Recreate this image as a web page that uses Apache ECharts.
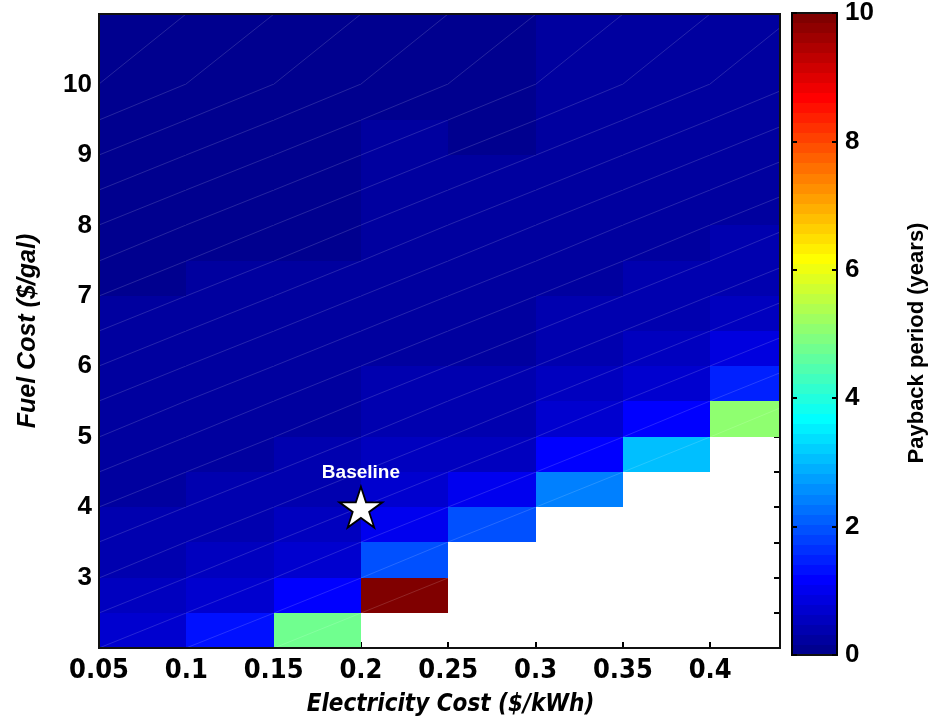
<!DOCTYPE html>
<html>
<head>
<meta charset="utf-8">
<script src="https://cdn.jsdelivr.net/npm/echarts@6/dist/echarts.min.js"></script>
<style>
html,body{margin:0;padding:0;background:#fff;}
#chart{width:934px;height:723px;}
</style>
</head>
<body>
<div id="chart"></div>
<script>
// Cell edges
const elecEdges = [0.05, 0.10, 0.15, 0.20, 0.25, 0.30, 0.35, 0.40, 0.45];
const fuelEdges = [2.0, 2.5, 3.0, 3.5, 4.0, 4.5, 5.0, 5.5, 6.0, 6.5, 7.0, 7.5, 8.0, 8.5, 9.0, 9.5, 10.0, 11.0];
// Payback period (years); rows bottom (fuel 2.0) to top (fuel 10.0); columns elec 0.05 .. 0.40; null = no payback
const payback = [
  [0.72, 1.30, 4.70, null, null, null, null, null],
  [0.53, 0.75, 1.20, 10.0, null, null, null, null],
  [0.42, 0.53, 0.73, 1.90, null, null, null, null],
  [0.34, 0.41, 0.51, 1.00, 2.00, null, null, null],
  [0.29, 0.34, 0.39, 0.69, 0.95, 2.45, null, null],
  [0.26, 0.29, 0.32, 0.52, 0.62, 1.12, 3.10, null],
  [0.23, 0.25, 0.27, 0.42, 0.46, 0.72, 1.20, 5.00],
  [0.20, 0.22, 0.23, 0.35, 0.37, 0.53, 0.75, 1.43],
  [0.185, 0.20, 0.20, 0.30, 0.305, 0.42, 0.54, 0.83],
  [0.17, 0.18, 0.18, 0.26, 0.26, 0.35, 0.43, 0.59],
  [0.155, 0.165, 0.165, 0.235, 0.23, 0.30, 0.35, 0.45],
  [0.145, 0.15, 0.15, 0.21, 0.20, 0.26, 0.30, 0.37],
  [0.135, 0.14, 0.138, 0.19, 0.18, 0.23, 0.26, 0.31],
  [0.127, 0.13, 0.128, 0.177, 0.165, 0.21, 0.23, 0.27],
  [0.12, 0.122, 0.119, 0.163, 0.15, 0.19, 0.205, 0.24],
  [0.112, 0.115, 0.111, 0.152, 0.14, 0.173, 0.186, 0.21],
  [0.106, 0.108, 0.104, 0.142, 0.13, 0.16, 0.17, 0.19]
];
const baseline = [0.2, 4.0];
const baselineLabel = 'Baseline';
const xTitle = 'Electricity Cost ($/kWh)';
const yTitle = 'Fuel Cost ($/gal)';
const cbTitle = 'Payback period (years)';
const cbMin = 0, cbMax = 10, cbLevels = 64;

// MATLAB jet(64) colormap
function clamp(v){ return Math.max(0, Math.min(1, v)); }
const jet = [];
for (let i = 1; i <= cbLevels; i++) {
  const x = i / cbLevels;
  const r = clamp(Math.min(4*x - 1.5, -4*x + 4.5));
  const g = clamp(Math.min(4*x - 0.5, -4*x + 3.5));
  const b = clamp(Math.min(4*x + 0.5, -4*x + 2.5));
  jet.push('rgb(' + Math.round(r*255) + ',' + Math.round(g*255) + ',' + Math.round(b*255) + ')');
}
const step = (cbMax - cbMin) / cbLevels;
const pieces = jet.map((c, k) => {
  const p = { gte: cbMin + k*step, color: c };
  if (k < cbLevels - 1) p.lt = cbMin + (k+1)*step;
  return p;
});

// heatmap cells: [x0, y0, value, x1, y1]
const cells = [];
payback.forEach((row, j) => {
  row.forEach((v, i) => {
    if (v === null) return;
    cells.push([elecEdges[i], fuelEdges[j], v, elecEdges[i+1], fuelEdges[j+1]]);
  });
});
// colorbar bands
const bands = jet.map((c, k) => [0, cbMin + k*step, cbMin + (k+0.5)*step, 1, cbMin + (k+1)*step]);

const FONT = "'Liberation Sans', Arial, sans-serif";
const NARROW = "'Liberation Sans Narrow', 'Arial Narrow', 'DejaVu Sans Condensed', 'Liberation Sans', sans-serif";

const starPath = 'path://M0,-50 L11.23,-15.45 L47.55,-15.45 L18.16,5.9 L29.39,40.45 L0,19.1 L-29.39,40.45 L-18.16,5.9 L-47.55,-15.45 L-11.23,-15.45 Z';

function cellRender(params, api) {
  const p0 = api.coord([api.value(0), api.value(1)]);
  const p1 = api.coord([api.value(3), api.value(4)]);
  const x0 = Math.round(p0[0]), x1 = Math.round(p1[0]);
  const yb = Math.round(p0[1]), yt = Math.round(p1[1]);
  const color = api.visual('color');
  return {
    type: 'group',
    children: [
      { type: 'rect', shape: { x: x0, y: yt, width: x1 - x0, height: yb - yt },
        style: { fill: color } },
      { type: 'line', shape: { x1: x0, y1: yb, x2: x1, y2: yt },
        style: { stroke: 'rgba(255,255,255,0.15)', lineWidth: 1 } }
    ]
  };
}
function bandRender(params, api) {
  const p0 = api.coord([api.value(0), api.value(1)]);
  const p1 = api.coord([api.value(3), api.value(4)]);
  const x0 = Math.round(p0[0]), x1 = Math.round(p1[0]);
  const yb = Math.round(p0[1]), yt = Math.round(p1[1]);
  const color = api.visual('color');
  return { type: 'rect', shape: { x: x0, y: yt, width: x1 - x0, height: yb - yt },
    style: { fill: color } };
}

const chart = echarts.init(document.getElementById('chart'), null, { renderer: 'canvas' });
chart.setOption({
  backgroundColor: '#fff',
  animation: false,
  textStyle: { fontFamily: FONT },
  grid: [
    { left: 99, top: 14, width: 681, height: 634, show: true, z: 6, borderColor: '#111', borderWidth: 2, backgroundColor: 'transparent' },
    { left: 792, top: 12, width: 45, height: 643, show: true, z: 6, borderColor: '#111', borderWidth: 2, backgroundColor: 'transparent' }
  ],
  visualMap: {
    type: 'piecewise', show: false, dimension: 2, seriesIndex: [0, 2], pieces: pieces
  },
  xAxis: [
    { gridIndex: 0, type: 'value', min: 0.05, max: 0.44, interval: 0.05, position: 'bottom',
      axisLine: { show: true, lineStyle: { color: '#000', width: 2 } },
      axisTick: { show: true, inside: true, length: 6, lineStyle: { color: '#000', width: 2 } },
      splitLine: { show: false },
      axisLabel: { color: '#000', fontFamily: NARROW, fontWeight: 'bold', fontSize: 27, margin: 9,
        showMaxLabel: false, formatter: v => String(+v.toFixed(2)) },
      name: xTitle, nameLocation: 'middle', nameGap: 45,
      nameTextStyle: { color: '#000', fontFamily: NARROW, fontWeight: 'bold', fontStyle: 'italic', fontSize: 24,
        padding: [0, 0, 0, 22] } },
    { gridIndex: 1, type: 'value', min: 0, max: 1, show: false }
  ],
  yAxis: [
    { gridIndex: 0, type: 'value', min: 2, max: 11, interval: 1, position: 'left',
      axisLine: { show: true, lineStyle: { color: '#000', width: 2 } },
      axisTick: { show: true, inside: true, length: 6, lineStyle: { color: '#000', width: 2 } },
      splitLine: { show: false },
      axisLabel: { color: '#000', fontWeight: 'bold', fontSize: 26, margin: 7, showMinLabel: false, showMaxLabel: false },
      name: yTitle, nameLocation: 'middle', nameGap: 58, nameRotate: 90,
      nameTextStyle: { color: '#000', fontWeight: 'bold', fontStyle: 'italic', fontSize: 25 } },
    { gridIndex: 0, type: 'value', min: 2, max: 11, interval: 0.5, position: 'right',
      axisLine: { show: true, lineStyle: { color: '#000', width: 2 } },
      axisTick: { show: true, inside: true, length: 6, lineStyle: { color: '#000', width: 2 } },
      splitLine: { show: false }, axisLabel: { show: false } },
    { gridIndex: 1, type: 'value', min: cbMin, max: cbMax, interval: 2, position: 'left', z: 10,
      axisLine: { show: true, lineStyle: { color: '#000', width: 2 } },
      axisTick: { show: true, inside: true, length: 5, lineStyle: { color: '#000', width: 2 } },
      splitLine: { show: false }, axisLabel: { show: false } },
    { gridIndex: 1, type: 'value', min: cbMin, max: cbMax, interval: 2, position: 'right', z: 10,
      axisLine: { show: true, lineStyle: { color: '#000', width: 2 } },
      axisTick: { show: true, inside: true, length: 5, lineStyle: { color: '#000', width: 2 } },
      splitLine: { show: false },
      axisLabel: { color: '#000', fontWeight: 'bold', fontSize: 26, margin: 8 },
      name: cbTitle, nameLocation: 'middle', nameGap: 69, nameRotate: 90,
      nameTextStyle: { color: '#000', fontWeight: 'bold', fontSize: 22, padding: [0, 18, 0, 0] } }
  ],
  series: [
    { type: 'custom', name: 'payback', xAxisIndex: 0, yAxisIndex: 0, clip: true, z: 2,
      renderItem: cellRender, encode: { x: [0, 3], y: [1, 4] }, data: cells },
    { type: 'scatter', xAxisIndex: 0, yAxisIndex: 0, z: 5,
      symbol: starPath, symbolSize: 43, symbolKeepAspect: true,
      itemStyle: { color: '#fff', borderColor: '#000', borderWidth: 1.8, opacity: 1 },
      label: { show: true, position: 'top', distance: 3, formatter: baselineLabel, color: '#fff',
        fontWeight: 'bold', fontSize: 19, opacity: 1 },
      emphasis: { disabled: true },
      data: [baseline] },
    { type: 'custom', name: 'colorbar', xAxisIndex: 1, yAxisIndex: 2, z: 2,
      renderItem: bandRender, encode: { x: [0, 3], y: [1, 4] }, data: bands }
  ]
});
</script>
</body>
</html>
